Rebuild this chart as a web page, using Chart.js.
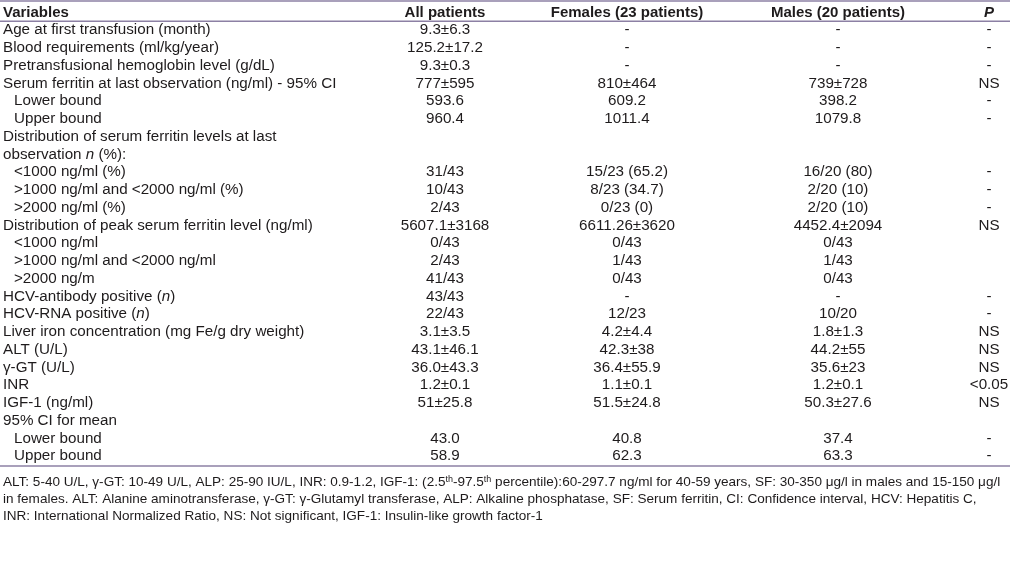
<!DOCTYPE html>
<html>
<head>
<meta charset="utf-8">
<script src="https://cdn.jsdelivr.net/npm/chart.js@4.4.1/dist/chart.umd.min.js"></script>
<style>
  html, body { margin: 0; padding: 0; background: #ffffff; }
  #wrap { width: 1010px; height: 583px; position: relative; }
</style>
</head>
<body>
<div id="wrap"><canvas id="c" width="1010" height="583"></canvas></div>
<script>
// ---------- DATA ----------
const headers = ["Variables", "All patients", "Females (23 patients)", "Males (20 patients)", "_P_"];

const variables = [
  "Age at first transfusion (month)",
  "Blood requirements (ml/kg/year)",
  "Pretransfusional hemoglobin level (g/dL)",
  "Serum ferritin at last observation (ng/ml) - 95% CI",
  "Lower bound",
  "Upper bound",
  "Distribution of serum ferritin levels at last",
  "observation _n_ (%):",
  "<1000 ng/ml (%)",
  ">1000 ng/ml and <2000 ng/ml (%)",
  ">2000 ng/ml (%)",
  "Distribution of peak serum ferritin level (ng/ml)",
  "<1000 ng/ml",
  ">1000 ng/ml and <2000 ng/ml",
  ">2000 ng/m",
  "HCV-antibody positive (_n_)",
  "HCV-RNA positive (_n_)",
  "Liver iron concentration (mg Fe/g dry weight)",
  "ALT (U/L)",
  "\u03B3-GT (U/L)",
  "INR",
  "IGF-1 (ng/ml)",
  "95% CI for mean",
  "Lower bound",
  "Upper bound"
];

const allPatients = [
  "9.3\u00B16.3", "125.2\u00B117.2", "9.3\u00B10.3", "777\u00B1595", "593.6", "960.4",
  "", "", "31/43", "10/43", "2/43", "5607.1\u00B13168", "0/43", "2/43", "41/43",
  "43/43", "22/43", "3.1\u00B13.5", "43.1\u00B146.1", "36.0\u00B143.3", "1.2\u00B10.1",
  "51\u00B125.8", "", "43.0", "58.9"
];

const females = [
  "-", "-", "-", "810\u00B1464", "609.2", "1011.4",
  "", "", "15/23 (65.2)", "8/23 (34.7)", "0/23 (0)", "6611.26\u00B13620", "0/43", "1/43", "0/43",
  "-", "12/23", "4.2\u00B14.4", "42.3\u00B138", "36.4\u00B155.9", "1.1\u00B10.1",
  "51.5\u00B124.8", "", "40.8", "62.3"
];

const males = [
  "-", "-", "-", "739\u00B1728", "398.2", "1079.8",
  "", "", "16/20 (80)", "2/20 (10)", "2/20 (10)", "4452.4\u00B12094", "0/43", "1/43", "0/43",
  "-", "10/20", "1.8\u00B11.3", "44.2\u00B155", "35.6\u00B123", "1.2\u00B10.1",
  "50.3\u00B127.6", "", "37.4", "63.3"
];

const pValues = [
  "-", "-", "-", "NS", "-", "-",
  "", "", "-", "-", "-", "NS", "", "", "",
  "-", "-", "NS", "NS", "NS", "<0.05",
  "NS", "", "-", "-"
];

const footnotes = [
  "ALT: 5-40 U/L, \u03B3-GT: 10-49 U/L, ALP: 25-90 IU/L, INR: 0.9-1.2, IGF-1: (2.5^th^-97.5^th^ percentile):60-297.7 ng/ml for 40-59 years, SF: 30-350 \u03BCg/l in males and 15-150 \u03BCg/l",
  "in females. ALT: Alanine aminotransferase, \u03B3-GT: \u03B3-Glutamyl transferase, ALP: Alkaline phosphatase, SF: Serum ferritin, CI: Confidence interval, HCV: Hepatitis C,",
  "INR: International Normalized Ratio, NS: Not significant, IGF-1: Insulin-like growth factor-1"
];

// ---------- STYLE / LAYOUT ----------
const indentedRows = [4, 5, 8, 9, 10, 12, 13, 14, 23, 24];
const FONT = '"Liberation Sans", Arial, sans-serif';
const TEXT_COLOR = '#1e1b1c';
const RULE_COLOR = '#8c80a4';
const colCenters = [null, 445, 627, 838, 989];
const ROW_H = 17.75;
const ROWS = variables.length + 1;
const TEXT_DY = 0;
const BODY_SIZE = 15.2;

// draw string with _italic_ and ^sup^ markup
function drawRich(ctx, str, x, y, size, weight, align) {
  const parts = [];
  let mode = 'n', buf = '';
  for (const ch of str) {
    if (ch === '_' || ch === '^') {
      if (buf) parts.push({t: buf, m: mode});
      buf = '';
      const m = ch === '_' ? 'i' : 's';
      mode = (mode === m) ? 'n' : m;
    } else buf += ch;
  }
  if (buf) parts.push({t: buf, m: mode});
  const fontFor = (m) => {
    if (m === 'i') return `italic ${weight} ${size}px ${FONT}`;
    if (m === 's') return `${weight} ${Math.round(size * 0.68)}px ${FONT}`;
    return `${weight} ${size}px ${FONT}`;
  };
  let total = 0;
  for (const p of parts) { ctx.font = fontFor(p.m); p.w = ctx.measureText(p.t).width; total += p.w; }
  let cx = align === 'center' ? x - total / 2 : x;
  ctx.textAlign = 'left';
  ctx.textBaseline = 'alphabetic';
  const base = y + size * 0.36 + TEXT_DY;
  for (const p of parts) {
    ctx.font = fontFor(p.m);
    ctx.fillText(p.t, cx, p.m === 's' ? base - size * 0.35 : base);
    cx += p.w;
  }
}

const tablePlugin = {
  id: 'tablePlugin',
  afterDraw(chart) {
    const ctx = chart.ctx;
    const y = chart.scales.y;
    const area = chart.chartArea;
    ctx.save();
    ctx.fillStyle = TEXT_COLOR;
    const left = 3;
    // header
    const hy = y.getPixelForValue(0);
    drawRich(ctx, headers[0], left, hy, 15, 'bold', 'left');
    for (let c = 1; c < headers.length; c++) {
      drawRich(ctx, headers[c], colCenters[c], hy, 15, 'bold', 'center');
    }
    // body
    const cols = [variables, allPatients, females, males, pValues];
    for (let r = 0; r < variables.length; r++) {
      const py = y.getPixelForValue(r + 1);
      const indent = indentedRows.includes(r) ? 11 : 0;
      drawRich(ctx, variables[r], left + indent, py, BODY_SIZE, 'normal', 'left');
      for (let c = 1; c < cols.length; c++) {
        if (cols[c][r]) drawRich(ctx, cols[c][r], colCenters[c], py, BODY_SIZE, 'normal', 'center');
      }
    }
    // rules
    ctx.strokeStyle = RULE_COLOR;
    ctx.lineWidth = 1.5;
    const rule = (yy) => { ctx.beginPath(); ctx.moveTo(0, yy); ctx.lineTo(chart.width, yy); ctx.stroke(); };
    rule(1);
    rule((y.getPixelForValue(0) + y.getPixelForValue(1)) / 2 + 1);
    rule(area.bottom + 2);
    // footnotes
    ctx.fillStyle = TEXT_COLOR;
    footnotes.forEach((f, i) => {
      drawRich(ctx, f, left, area.bottom + 17.5 + i * 17, 13.55, 'normal', 'left');
    });
    ctx.restore();
  }
};

const rowKeys = ["header"].concat(variables.map((v, i) => "row" + i));

new Chart(document.getElementById('c'), {
  type: 'bar',
  data: { labels: rowKeys, datasets: [{ data: [], backgroundColor: 'rgba(0,0,0,0)' }] },
  options: {
    responsive: false,
    animation: false,
    indexAxis: 'y',
    layout: { padding: { top: 2.4, bottom: 583 - 2.4 - ROWS * ROW_H, left: 0, right: 0 } },
    plugins: { legend: { display: false }, tooltip: { enabled: false } },
    scales: {
      y: { type: 'category', display: false, offset: true },
      x: { type: 'linear', display: false, min: 0, max: 1 }
    }
  },
  plugins: [tablePlugin]
});
</script>
</body>
</html>
